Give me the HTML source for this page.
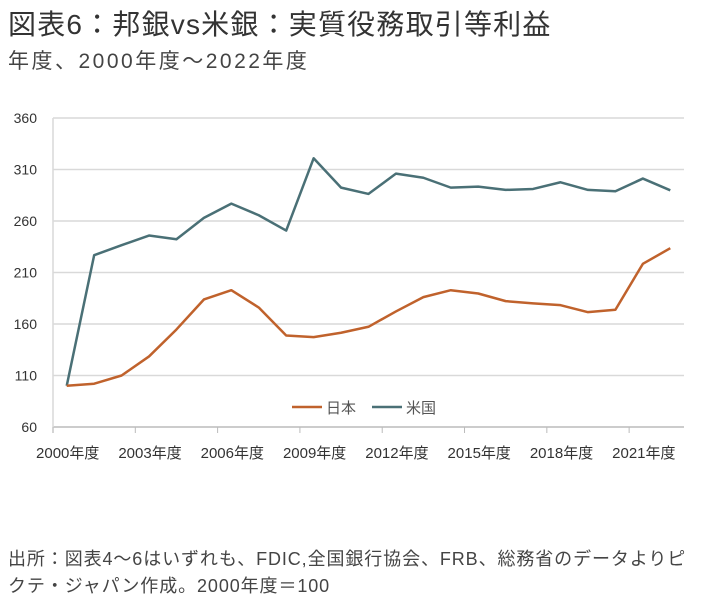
<!DOCTYPE html>
<html><head><meta charset="utf-8"><style>
body{margin:0;width:713px;height:605px;background:#fff;font-family:"Liberation Sans","Noto Sans CJK JP",sans-serif;color:#333;overflow:hidden;position:relative}
.t{position:absolute;left:8px;white-space:nowrap}
</style></head><body>
<div class="t" style="top:3px;font-size:28px;letter-spacing:1.2px;color:#333">図表6：邦銀vs米銀：実質役務取引等利益</div>
<div class="t" style="top:45px;font-size:21px;letter-spacing:2.5px;color:#444">年度、2000年度～2022年度</div>
<svg id="c" width="713" height="480" style="position:absolute;left:0;top:0"></svg>
<div class="t" style="top:546px;font-size:18px;letter-spacing:0.9px;color:#444;line-height:27px">出所：図表4～6はいずれも、FDIC,全国銀行協会、FRB、総務省のデータよりピ<br>クテ・ジャパン作成。2000年度＝100</div>
<script>
const years=[2000,2001,2002,2003,2004,2005,2006,2007,2008,2009,2010,2011,2012,2013,2014,2015,2016,2017,2018,2019,2020,2021,2022];
const japan=[100,102,110,128.5,154.7,183.8,192.8,176,148.8,147.3,151.5,157.3,172.2,186.1,192.8,189.6,182.2,180,178.3,171.5,173.8,218.4,233.6];
const usa=[100,226.8,236.5,245.9,242.3,263,276.9,265.6,250.7,320.9,292.4,286.3,306,302,292.4,293.4,290.2,291.1,297.6,290.2,288.9,301.2,289.8];
const yTicks=[60,110,160,210,260,310,360];
const xLabelYears=[2000,2003,2006,2009,2012,2015,2018,2021];
const NS="http://www.w3.org/2000/svg",svg=document.getElementById('c');
const L=53,R=684,T=118,B=427,bw=(R-L)/years.length;
const x=i=>L+bw*(i+0.5), y=v=>B-(v-60)/300*(B-T);
function mk(t,a){const e=document.createElementNS(NS,t);for(const k in a)e.setAttribute(k,a[k]);svg.appendChild(e);return e;}
yTicks.forEach(v=>{
 const g=mk('line',{x1:L,x2:R,y1:y(v),y2:y(v),stroke:v===60?'#bbb':'#d9d9d9','stroke-width':1.5});
 
 
 const t=mk('text',{x:37,y:y(v)+5,'text-anchor':'end','font-size':14,fill:'#333'});t.textContent=v;
 
 
});
const ax=mk('line',{x1:L,x2:L,y1:T,y2:B+6,stroke:'#d9d9d9','stroke-width':1.5});


for(let i=0;i<=years.length;i+=3){const tk=mk('line',{x1:L+bw*i,x2:L+bw*i,y1:B,y2:B+6,stroke:'#bbb'});
 
 }
xLabelYears.forEach(yr=>{const i=years.indexOf(yr);
 const t=mk('text',{x:x(i)+1,y:458,'text-anchor':'middle','font-size':15,fill:'#333'});t.textContent=yr+'年度';
 
 });
function line(d,c,n){const p=mk('polyline',{points:d.map((v,i)=>x(i)+','+y(v)).join(' '),fill:'none',stroke:c,'stroke-width':2.5,'stroke-linejoin':'round'});
 
 }
line(usa,'#4a7076','series-usa');
line(japan,'#c0622c','series-japan');
[[292,'#c0622c','日本','legend-japan'],[372,'#4a7076','米国','legend-usa']].forEach(([lx,c,s,n])=>{
 const g=mk('g',{});
 
 const l=document.createElementNS(NS,'line');l.setAttribute('x1',lx);l.setAttribute('x2',lx+30);l.setAttribute('y1',407);l.setAttribute('y2',407);l.setAttribute('stroke',c);l.setAttribute('stroke-width',2.5);g.appendChild(l);
 const t=document.createElementNS(NS,'text');t.setAttribute('x',lx+34);t.setAttribute('y',413);t.setAttribute('font-size',15);t.setAttribute('fill','#555');t.textContent=s;g.appendChild(t);});
</script>
</body></html>
